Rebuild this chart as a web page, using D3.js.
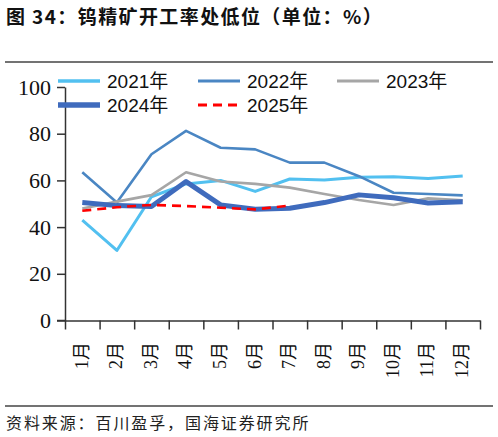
<!DOCTYPE html>
<html>
<head>
<meta charset="utf-8">
<script src="https://cdn.jsdelivr.net/npm/d3@7"></script>
<style>
  body { margin: 0; background: #fff; }
  svg { display: block; }
</style>
</head>
<body>
<div id="chart"></div>
<script>
const months = ["1月","2月","3月","4月","5月","6月","7月","8月","9月","10月","11月","12月"];
const yTicks = [0, 20, 40, 60, 80, 100];

// 钨精矿开工率 (%)
const y2021 = [43, 30, 53, 58.5, 60, 55.3, 60.6, 60.2, 61.3, 61.6, 60.8, 61.9];
const y2022 = [63.5, 50.5, 71.2, 81.2, 74, 73.3, 67.6, 67.6, 61.8, 54.7, 54.2, 53.6];
const y2023 = [48, 50.9, 53.7, 63.5, 59.5, 58.5, 56.9, 54.2, 51.6, 49.5, 52.3, 51.5];
const y2024 = [50.5, 49.2, 48.8, 59.5, 49.5, 47.6, 48.1, 50.5, 53.8, 52.6, 50.3, 50.9];
const y2025 = [47, 48.5, 49.5, 49, 48.3, 47.6, 49.2];

const series = [
  {name: "2021年", values: y2021, color: "#52c0f0", width: 3},
  {name: "2022年", values: y2022, color: "#4a86c3", width: 2.6},
  {name: "2023年", values: y2023, color: "#a6a6a6", width: 2.6},
  {name: "2024年", values: y2024, color: "#3f6bbd", width: 5},
  {name: "2025年", values: y2025, color: "#ff0000", width: 2.6, dash: "9,6"}
];

const W = 498, H = 437;
const svg = d3.select("#chart").append("svg").attr("width", W).attr("height", H);

// title
svg.append("text").attr("x", 6).attr("y", 24)
  .attr("font-family", "'Noto Sans CJK SC', sans-serif").attr("font-weight", "bold")
  .attr("font-size", 19).attr("letter-spacing", 1.4).attr("fill", "#111")
  .text("图 34：钨精矿开工率处低位（单位：%）");
svg.append("line").attr("x1", 5).attr("x2", 493).attr("y1", 62).attr("y2", 62)
  .attr("stroke", "#444").attr("stroke-width", 1.5);

const x = d3.scaleBand().domain(months).range([65, 480]);
const xEdge = d3.scaleLinear().domain([0, 12]).range([65, 480]);
const y = d3.scaleLinear().domain([0, 100]).range([320.5, 87]);

// y axis
const gy = svg.append("g").attr("transform", "translate(65,0)")
  .call(d3.axisLeft(y).tickValues(yTicks).tickSize(8).tickSizeOuter(0).tickPadding(6));
gy.select(".domain").attr("stroke", "#333").attr("stroke-width", 1.5);
gy.selectAll(".tick line").attr("stroke", "#333").attr("stroke-width", 1.5);
gy.selectAll(".tick text").attr("font-family", "'Liberation Serif', serif")
  .attr("font-size", 22).attr("fill", "#111");

// x axis
const gx = svg.append("g").attr("transform", "translate(0," + y(0) + ")")
  .call(d3.axisBottom(xEdge).tickValues(d3.range(13)).tickSize(9).tickSizeOuter(0).tickFormat(""));
gx.select(".domain").attr("stroke", "#333").attr("stroke-width", 1.5);
gx.selectAll(".tick line").attr("stroke", "#333").attr("stroke-width", 1.5);
svg.append("line").attr("x1", 57).attr("x2", 65).attr("y1", y(0)).attr("y2", y(0))
  .attr("stroke", "#333").attr("stroke-width", 1.5);

svg.append("g").selectAll("text").data(months).enter().append("text")
  .attr("transform", d => "translate(" + (x(d) + x.bandwidth() / 2 - 1) + ",342) rotate(-90)")
  .attr("text-anchor", "end").attr("dy", "0.35em")
  .attr("font-family", "'Liberation Serif', 'Noto Sans CJK SC', serif")
  .attr("font-size", 18).attr("fill", "#111")
  .text(d => d);

// lines
const line = d3.line()
  .x((d, i) => x(months[i]) + x.bandwidth() / 2)
  .y(d => y(d));

svg.append("g").selectAll("path").data(series).enter().append("path")
  .attr("d", d => line(d.values))
  .attr("fill", "none")
  .attr("stroke", d => d.color)
  .attr("stroke-width", d => d.width)
  .attr("stroke-linejoin", "round")
  .attr("stroke-dasharray", d => d.dash || null);

// legend
const legPos = [[58, 81], [198, 81], [337, 81], [58, 105], [198, 105]];
const leg = svg.append("g").selectAll("g").data(series).enter().append("g")
  .attr("transform", (d, i) => "translate(" + legPos[i][0] + "," + legPos[i][1] + ")");
leg.append("line").attr("x1", 0).attr("x2", 42).attr("y1", 0).attr("y2", 0)
  .attr("stroke", d => d.color)
  .attr("stroke-width", d => d.width + 0.4)
  .attr("stroke-dasharray", d => d.dash || null);
leg.append("text").attr("x", 49).attr("dy", "0.36em")
  .attr("font-family", "'Liberation Sans', 'Noto Sans CJK SC', sans-serif")
  .attr("font-size", 19).attr("fill", "#111")
  .text(d => d.name);

// source
svg.append("line").attr("x1", 5).attr("x2", 493).attr("y1", 406).attr("y2", 406)
  .attr("stroke", "#444").attr("stroke-width", 1.5);
svg.append("text").attr("x", 6).attr("y", 429)
  .attr("font-family", "'Noto Sans CJK SC', sans-serif")
  .attr("font-size", 16).attr("letter-spacing", 1.9).attr("fill", "#222")
  .text("资料来源：百川盈孚，国海证券研究所");
</script>
</body>
</html>
